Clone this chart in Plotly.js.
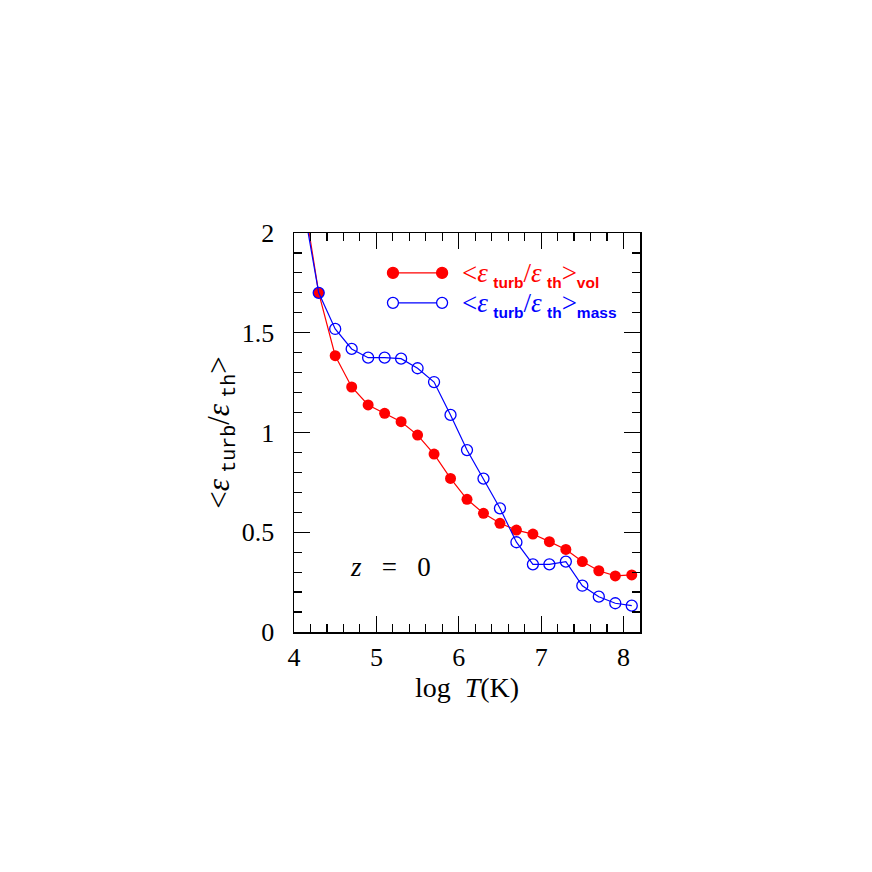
<!DOCTYPE html>
<html>
<head>
<meta charset="utf-8">
<script src="https://cdn.plot.ly/plotly-3.0.1.min.js"></script>
<style>
  html, body { margin: 0; padding: 0; background: #fff; }
  #plot { width: 872px; height: 872px; }
</style>
</head>
<body>
<div id="plot"></div>
<script>
// log T bins (first one sits above the top of the frame and is clipped)
var logT = [4.1, 4.3, 4.5, 4.7, 4.9, 5.1, 5.3, 5.5, 5.7, 5.9, 6.1,
            6.3, 6.5, 6.7, 6.9, 7.1, 7.3, 7.5, 7.7, 7.9, 8.1];

// volume weighted <e_turb/e_th>
var ratioVol = [2.22, 1.70, 1.385, 1.228, 1.138, 1.096, 1.054, 0.987, 0.892, 0.770, 0.665,
                0.595, 0.545, 0.511, 0.491, 0.453, 0.414, 0.353, 0.307, 0.281, 0.286];

// mass weighted <e_turb/e_th>
var ratioMass = [2.17, 1.70, 1.519, 1.419, 1.375, 1.375, 1.370, 1.322, 1.253, 1.088, 0.912,
                 0.769, 0.620, 0.450, 0.339, 0.339, 0.353, 0.232, 0.177, 0.144, 0.132];

var serif = '"Liberation Serif", "DejaVu Serif", serif';

var RED = 'rgb(255,0,0)';
var BLUE = 'rgb(0,0,255)';

// no double quotes in here, they would end the style attribute
function sub(txt, family, size, bold) {
  return '<sub><span style="font-family:' + family + ';font-size:' + size + 'px' +
         (bold ? ';font-weight:bold' : '') + '">' + txt + '</span></sub>';
}

function keyLabel(which) {
  var s = 'Liberation Sans';
  return '&lt;<i>ε</i>\u2009' + sub('turb', s, 15.5, true) + '/<i>ε</i>\u2009' +
         sub('th', s, 15.5, true) + '&gt;' + sub(which, s, 15.5, true);
}

var traces = [
  {
    type: 'scatter',
    x: logT,
    y: ratioVol,
    mode: 'lines+markers',
    name: 'vol',
    line: { color: RED, width: 1.2 },
    marker: { color: RED, size: 11, symbol: 'circle' },
    cliponaxis: true
  },
  {
    type: 'scatter',
    x: logT,
    y: ratioMass,
    mode: 'lines+markers',
    name: 'mass',
    line: { color: BLUE, width: 1.2 },
    marker: { color: BLUE, size: 11, symbol: 'circle-open', line: { width: 1.3 } },
    cliponaxis: true
  }
];

// hand made key in the upper right, like the original
var keyRows = [
  { y: 0.900, color: RED, filled: true, sub: 'vol' },
  { y: 0.825, color: BLUE, filled: false, sub: 'mass' }
];

var shapes = [];
var annotations = [];
keyRows.forEach(function(k) {
  shapes.push({
    type: 'line', xref: 'paper', yref: 'paper',
    x0: 0.286, x1: 0.428, y0: k.y, y1: k.y,
    line: { color: k.color, width: 1.2 }
  });
  [0.286, 0.428].forEach(function(xc) {
    shapes.push({
      type: 'circle', xref: 'paper', yref: 'paper',
      xsizemode: 'pixel', ysizemode: 'pixel',
      xanchor: xc, yanchor: k.y,
      x0: -5.5, x1: 5.5, y0: -5.5, y1: 5.5,
      fillcolor: k.filled ? k.color : 'white',
      line: { color: k.color, width: 1.3 }
    });
  });
  annotations.push({
    xref: 'paper', yref: 'paper',
    x: 0.481, y: k.y - 0.004,
    xanchor: 'left', yanchor: 'middle',
    showarrow: false,
    text: keyLabel(k.sub),
    font: { family: serif, size: 27, color: k.color }
  });
});

annotations.push({
  xref: 'paper', yref: 'paper',
  x: 0.278, y: 0.163,
  xanchor: 'center', yanchor: 'middle',
  showarrow: false,
  text: '<i>z</i>\u00a0\u00a0\u00a0=\u00a0\u00a0\u00a00',
  font: { family: serif, size: 27, color: 'black' }
});

var layout = {
  width: 872,
  height: 872,
  paper_bgcolor: 'white',
  plot_bgcolor: 'white',
  showlegend: false,
  margin: { l: 294, r: 232, t: 233, b: 240 },
  font: { family: serif, size: 26, color: 'black' },
  xaxis: {
    range: [4, 8.2],
    dtick: 1,
    tick0: 4,
    ticks: 'inside',
    ticklen: 16,
    tickwidth: 1.2,
    tickcolor: 'black',
    minor: { dtick: 0.2, ticks: 'inside', ticklen: 8, tickwidth: 1.2, tickcolor: 'black' },
    showline: true,
    linewidth: 1.5,
    linecolor: 'black',
    mirror: 'ticks',
    showgrid: false,
    zeroline: false,
    tickfont: { family: serif, size: 26 },
    ticklabelstandoff: 1,
    title: { text: 'log\u00a0\u00a0<i>T</i>(K)', font: { family: serif, size: 28 }, standoff: 6 }
  },
  yaxis: {
    range: [0, 2],
    dtick: 0.5,
    tick0: 0,
    ticks: 'inside',
    ticklen: 16,
    tickwidth: 1.2,
    tickcolor: 'black',
    minor: { dtick: 0.1, ticks: 'inside', ticklen: 8, tickwidth: 1.2, tickcolor: 'black' },
    showline: true,
    linewidth: 1.5,
    linecolor: 'black',
    mirror: 'ticks',
    showgrid: false,
    zeroline: false,
    tickfont: { family: serif, size: 26 },
    ticklabelstandoff: 13,
    title: {
      text: '&lt;<i>ε</i>\u2009' + sub('turb', 'Liberation Mono', 20, false) + '/<i>ε</i>\u2009' +
            sub('th', 'Liberation Mono', 20, false) + '&gt;',
      font: { family: serif, size: 31 },
      standoff: 3
    }
  },
  shapes: shapes,
  annotations: annotations
};

Plotly.newPlot('plot', traces, layout, { staticPlot: true });
</script>
</body>
</html>
